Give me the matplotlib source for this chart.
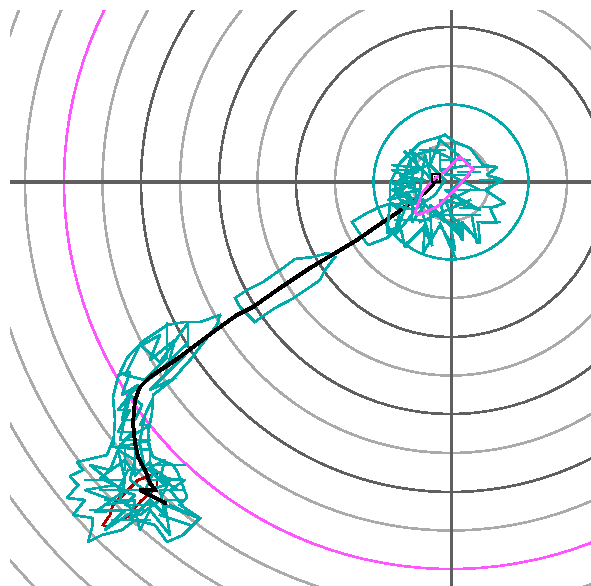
import matplotlib
matplotlib.use("Agg")
import matplotlib.pyplot as plt
from matplotlib.patches import Circle

CENTER = (451, 182)
RING_RADII = [38.7, 77.4, 116, 155, 193.5, 232, 271, 310, 348.5, 387, 426, 465, 503, 542, 581, 620]
RING_KIND = ["g", "c", "g", "d", "g", "d", "g", "d", "g", "m", "g", "g", "g", "g", "g", "g"]
PAL = {"g": "#aaaaaa", "c": "#00aaaa", "d": "#5f5f5f", "m": "#ff55ff"}

track = [(436,178),(432,186),(423,194),(410,203),(397,213),(383,222),(357,240),(337,252),(310,268),
         (280,288),(253,307),(237,315),(213,332),(180,357),(150,377),(140,387),(135,400),(133,423),
         (135,443),(138,457),(145,470),(150,483),(155,490),(140,490),(150,495),(165,503)]
red_poly = [(157,473),(138,480),(129,489),(123,495),(113,505),(110,515),(103,525),(107,527),(112,523),
            (120,520),(127,517),(132,511),(141,501),(151,492),(157,487),(157,473)]
magenta_poly = [(460,157),(473,169),(455,190),(437,207),(418,215),(415,213),(422,193),(433,180),(443,173),(460,157)]

top_cluster = [
 [(445,135),(455,142),(470,148),(483,165),(497,167),(487,175),(503,180),(485,190),(505,203),(490,208),
  (497,223),(478,222),(480,243),(462,222),(463,240),(450,222),(455,250),(440,225),(423,253),(425,225),
  (405,247),(400,225),(387,233),(390,203),(390,183),(400,163),(420,143),(445,135)],
 [(440,140),(470,165),(440,170),(480,190),(445,190),(480,210),(445,200),(460,235),(430,205),(432,245),
  (420,205),(395,235),(410,195),(388,200),(415,180),(392,170),(420,170),(410,150),(430,165),(440,140)],
 [(432,150),(455,160),(445,175),(470,175),(450,190),(465,205),(440,200),(445,222),(425,205),(412,222),
  (412,200),(392,190),(412,185),(400,175),(418,172),(415,155),(432,150)],
 [(430,165),(445,180),(435,195),(420,205),(400,200),(395,185),(410,170),(430,165)],
 [(392,165),(420,168),(400,176),(425,180),(392,183),(420,190),(395,195),(425,200),(392,205),(415,210),
  (400,188),(410,160),(418,205),(425,155),(432,180),(405,152)],
 [(473,167),(497,167)], [(480,180),(500,180)], [(473,190),(487,190)], [(483,207),(497,207)],
 [(477,222),(500,222)], [(460,208),(480,208)], [(440,150),(440,170)], [(455,143),(455,167)],
 [(425,230),(432,245)], [(440,223),(455,257)], [(458,220),(462,240)], [(472,217),(477,243)],
 [(407,243),(422,230)], [(430,215),(480,215)], [(420,222),(470,200)], [(440,205),(470,190)],
 [(450,215),(470,232)], [(395,220),(430,220)], [(430,148),(430,165)], [(420,150),(445,150)],
 [(440,160),(470,160)], [(458,172),(480,172)],
]
mid_cluster = [
 [(352,222),(367,213),(380,207),(392,203),(400,212),(395,230),(387,238),(368,245),(362,237),(352,222)],
 [(235,298),(247,290),(263,282),(283,268),(295,259),(313,257),(328,253),(335,257),(325,270),(320,280),
  (310,287),(292,299),(275,308),(263,316),(255,322),(248,315),(240,307),(235,298)],
]
curve_cluster = [
 [(220,315),(200,322),(185,322),(167,325),(142,342),(127,358),(118,377),(113,397),(115,420),(113,447),
  (150,450),(148,433),(152,413),(153,395),(172,380),(190,360),(203,343),(217,325),(220,315)],
 [(167,323),(167,357),(145,380),(125,375),(140,345),(160,362),(188,323),(188,343),(155,375),(128,395),
  (122,420),(135,420),(142,405),(130,395),(120,440),(140,440),(145,415),(152,400)],
 [(118,375),(130,372),(122,395),(138,385),(118,410),(130,410),(118,432),(132,432),(118,448),(150,440),
  (125,440),(150,425),(140,425),(150,405)],
 [(142,345),(160,335),(150,360),(175,340),(165,375),(185,355),(150,390),(175,378)],
]
bottom_cluster = [
 [(113,440),(107,455),(77,462),(83,470),(70,476),(75,482),(78,485),(67,498),(85,500),(73,515),(93,518),
  (92,528),(88,542),(102,535),(122,530),(135,520),(155,525),(167,542),(183,535),(200,518),(180,505),
  (187,497),(178,473),(173,465),(153,457),(147,440)],
 [(120,445),(110,470),(90,465),(115,485),(85,490),(112,500),(95,512),(125,510),(105,530),(135,510),
  (140,530),(150,510),(170,535),(165,505),(190,515),(170,490),(185,480),(160,478),(165,460),(145,470),(140,445),(120,445)],
 [(125,460),(100,478),(125,490),(105,505),(135,500),(130,520),(150,500),(165,515),(160,490),(178,490),
  (155,475),(150,462),(135,475),(125,460)],
 [(128,470),(118,490),(135,495),(125,505),(150,505),(150,490),(165,485),(150,470),(128,470)],
 [(118,450),(135,460),(130,480),(145,490),(155,470),(170,480),(160,500),(140,515),(120,500),(125,480),(118,450)],
 [(85,480),(125,480)], [(100,490),(140,490)], [(90,510),(150,510)], [(105,500),(135,500)],
 [(140,465),(185,465)], [(150,480),(175,480)], [(160,490),(185,490)], [(165,500),(185,500)],
 [(112,520),(150,520)], [(135,450),(135,475)], [(125,445),(125,470)], [(150,445),(150,470)],
 [(170,505),(198,518)], [(160,515),(190,525)],
]

fig = plt.figure(figsize=(5.91, 5.86), dpi=100)
ax = fig.add_axes([10/591, 0, 581/591, 576/586])
ax.set_xlim(10, 591)
ax.set_ylim(586, 10)
ax.axis("off")
LW = 1.6 * 72 / 100

for r, k in zip(RING_RADII, RING_KIND):
    ax.add_patch(Circle(CENTER, r, fill=False, ec=PAL[k], lw=LW, antialiased=False, zorder=2 if k != "c" else 5))
ax.axhline(CENTER[1], color=PAL["d"], lw=2.2 * 72 / 100, antialiased=False, zorder=3)
ax.axvline(CENTER[0], color=PAL["d"], lw=3 * 72 / 100, antialiased=False, zorder=3)

def line(pts, color, z, lw=LW):
    xs, ys = zip(*pts)
    ax.plot(xs, ys, color=color, lw=lw, antialiased=False, zorder=z, solid_joinstyle="miter")

line(red_poly, "#aa0000", 4)
line(track, "#000000", 5.5, 2.8 * 72 / 100)
for p in top_cluster:
    line(p, PAL["c"], 6)
for p in mid_cluster + curve_cluster + bottom_cluster:
    line(p, PAL["c"], 5)
line(magenta_poly, PAL["m"], 7)
ax.plot([track[0][0]], [track[0][1]], marker="s", ms=5.5, mfc="none", mec="black", mew=2 * 72 / 100, antialiased=False, zorder=8)

fig.savefig("out.png", dpi=100)
